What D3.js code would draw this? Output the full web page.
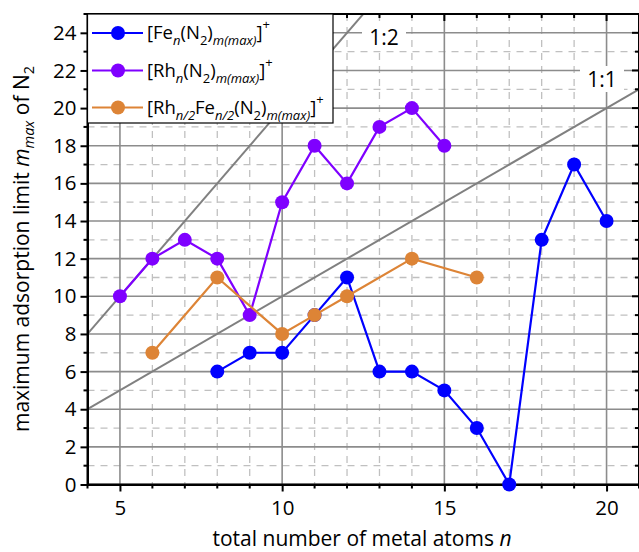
<!DOCTYPE html>
<html><head><meta charset="utf-8">
<script src="https://cdn.jsdelivr.net/npm/d3@7"></script>
<style>body{margin:0;background:#fff}svg{display:block}text{font-family:"Open Sans",sans-serif}</style>
</head><body><svg id="c" width="639" height="552"></svg>
<script>
const feN = [8,9,10,11,12,13,14,15,16,17,18,19,20];
const feM = [6,7,7,9,11,6,6,5,3,0,13,17,14];
const rhN = [5,6,7,8,9,10,11,12,13,14,15];
const rhM = [10,12,13,12,9,15,18,16,19,20,18];
const rfN = [6,8,10,11,12,14,16];
const rfM = [7,11,8,9,10,12,11];
const xTicks = [5,10,15,20];
const yTicks = [0,2,4,6,8,10,12,14,16,18,20,22,24];
const ratioLines = [{k:2,label:"1:2"},{k:1,label:"1:1"}];

const svg = d3.select("#c");
const L=87.5,R=639,T=14,B=484.5;
const x = d3.scaleLinear([4,21],[L,R]);
const y = d3.scaleLinear([0,25],[B,T]);
const g = svg.append("g");
g.append("defs").append("clipPath").attr("id","clip").append("rect").attr("x",L).attr("y",T).attr("width",R-L).attr("height",B-T);

// grid
const minorX = d3.range(4,22).filter(v=>v%5!==0);
const minorY = d3.range(1,26).filter(v=>v%2!==0);
const grid = g.append("g").attr("clip-path","url(#clip)");
grid.selectAll(".mx").data(minorX).join("line").attr("x1",d=>x(d)).attr("x2",d=>x(d)).attr("y1",T).attr("y2",B)
  .attr("stroke","#c0c0c0").attr("stroke-width",1.3).attr("stroke-dasharray","7,6");
grid.selectAll(".my").data(minorY).join("line").attr("y1",d=>y(d)).attr("y2",d=>y(d)).attr("x1",L).attr("x2",R)
  .attr("stroke","#c0c0c0").attr("stroke-width",1.3).attr("stroke-dasharray","7,6");
grid.selectAll(".Mx").data(xTicks).join("line").attr("x1",d=>x(d)).attr("x2",d=>x(d)).attr("y1",T).attr("y2",B)
  .attr("stroke","#8c8c8c").attr("stroke-width",1.6);
grid.selectAll(".My").data(yTicks).join("line").attr("y1",d=>y(d)).attr("y2",d=>y(d)).attr("x1",L).attr("x2",R)
  .attr("stroke","#8c8c8c").attr("stroke-width",1.6);

// ratio lines
grid.selectAll(".ratio").data(ratioLines).join("line")
  .attr("x1",x(4)).attr("y1",d=>y(4*d.k)).attr("x2",d=>x(21)).attr("y2",d=>y(21*d.k))
  .attr("stroke","#808080").attr("stroke-width",2);
const lab = [{t:"1:2",cx:384,cy:37},{t:"1:1",cx:602,cy:79}];
lab.forEach(l=>{
  g.append("rect").attr("x",l.cx-22).attr("y",l.cy-13).attr("width",44).attr("height",26).attr("fill","#fff");
  g.append("text").attr("x",l.cx).attr("y",l.cy+8).attr("text-anchor","middle").attr("font-size",21).text(l.t);
});

// frame
g.append("rect").attr("x",L).attr("y",T).attr("width",R-L).attr("height",B-T).attr("fill","none").attr("stroke","#000").attr("stroke-width",2);

const xAxis = d3.axisBottom(x).tickValues(xTicks).tickSize(7).tickSizeOuter(0).tickPadding(9);
const xa = g.append("g").attr("transform",`translate(0,${B})`).call(xAxis);
xa.select(".domain").attr("stroke-width",2);
xa.selectAll(".tick line").attr("stroke-width",2);
xa.selectAll("text").attr("font-size",20.5).attr("font-family","Open Sans");
g.append("g").attr("transform",`translate(0,${B})`).selectAll("line").data(minorX).join("line")
  .attr("x1",d=>x(d)).attr("x2",d=>x(d)).attr("y1",0).attr("y2",4).attr("stroke","#000").attr("stroke-width",2);

const yAxis = d3.axisLeft(y).tickValues(yTicks).tickSize(7).tickSizeOuter(0).tickPadding(4);
const ya = g.append("g").attr("transform",`translate(${L},0)`).call(yAxis);
ya.select(".domain").attr("stroke-width",2);
ya.selectAll(".tick line").attr("stroke-width",2);
ya.selectAll("text").attr("font-size",20.5).attr("font-family","Open Sans");
g.append("g").attr("transform",`translate(${L},0)`).selectAll("line").data(minorY).join("line")
  .attr("x1",-4).attr("x2",0).attr("y1",d=>y(d)).attr("y2",d=>y(d)).attr("stroke","#000").attr("stroke-width",2);

g.append("g").selectAll("line").data(d3.range(5,21)).join("line")
  .attr("x1",d=>x(d)).attr("x2",d=>x(d)).attr("y1",T).attr("y2",d=>T+(d%5===0?7:4)).attr("stroke","#000").attr("stroke-width",2);
g.append("g").selectAll("line").data(d3.range(1,25)).join("line")
  .attr("x1",R).attr("x2",d=>R-(d%2===0?7:4)).attr("y1",d=>y(d)).attr("y2",d=>y(d)).attr("stroke","#000").attr("stroke-width",2);

// series
const series = [
  {n:feN,m:feM,color:"#0000ff"},
  {n:rhN,m:rhM,color:"#7f00ff"},
  {n:rfN,m:rfM,color:"#dd8436"}
];
const line = d3.line().x(d=>x(d[0])).y(d=>y(d[1]));
series.forEach(s=>{
  const pts = s.n.map((v,i)=>[v,s.m[i]]);
  g.append("path").datum(pts).attr("d",line).attr("fill","none").attr("stroke",s.color).attr("stroke-width",2.2);
  g.append("g").selectAll("circle").data(pts).join("circle").attr("cx",d=>x(d[0])).attr("cy",d=>y(d[1])).attr("r",7).attr("fill",s.color);
});

// legend
const lg = g.append("g");
lg.append("rect").attr("x",L).attr("y",T).attr("width",333-L).attr("height",123-T).attr("fill","#fff").attr("stroke","#000").attr("stroke-width",1.2);
const legRows = [
  {color:"#0000ff", parts:[["[Fe",0],["n",-1,true],["(N",0],["2",-1],[")",0],["m(max)",-1,true],["]",0],["+",1]]},
  {color:"#7f00ff", parts:[["[Rh",0],["n",-1,true],["(N",0],["2",-1],[")",0],["m(max)",-1,true],["]",0],["+",1]]},
  {color:"#dd8436", parts:[["[Rh",0],["n/2",-1,true],["Fe",0],["n/2",-1,true],["(N",0],["2",-1],[")",0],["m(max)",-1,true],["]",0],["+",1]]}
];
const legY=[33,70.5,107.5];
legRows.forEach((r,i)=>{
  const yy=legY[i];
  lg.append("line").attr("x1",92).attr("x2",143).attr("y1",yy).attr("y2",yy).attr("stroke",r.color).attr("stroke-width",2.2);
  lg.append("circle").attr("cx",118).attr("cy",yy).attr("r",7).attr("fill",r.color);
  const t = lg.append("text").attr("x",147).attr("y",yy+6).attr("font-size",18.5);
  let cur=0;
  r.parts.forEach(p=>{
    const ts=t.append("tspan").text(p[0]);
    const target = p[1]===-1?6:(p[1]===1?-10:0);
    ts.attr("dy",target-cur); cur=target;
    if(p[1]!==0) ts.attr("font-size",13);
    if(p[2]) ts.attr("font-style","italic");
  });
});

// axis titles
const xt = g.append("text").attr("x",362).attr("y",546).attr("text-anchor","middle").attr("font-size",21);
xt.append("tspan").text("total number of metal atoms ");
xt.append("tspan").attr("font-style","italic").text("n");
const yt = g.append("text").attr("transform","translate(29,249) rotate(-90)").attr("text-anchor","middle").attr("font-size",21);
yt.append("tspan").text("maximum adsorption limit ");
yt.append("tspan").attr("font-style","italic").text("m");
yt.append("tspan").attr("font-style","italic").attr("font-size",14.5).attr("dy",5).text("max");
yt.append("tspan").attr("dy",-5).text(" of N");
yt.append("tspan").attr("font-size",14.5).attr("dy",5).text("2");
</script></body></html>
